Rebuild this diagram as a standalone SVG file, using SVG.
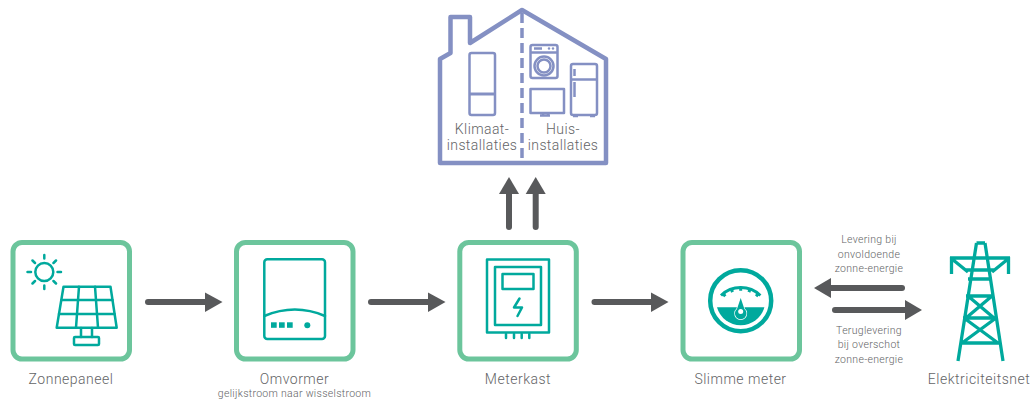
<svg xmlns="http://www.w3.org/2000/svg" width="1035" height="403" viewBox="0 0 1035 403">
<defs>
<style>
text{font-family:"Roboto","Liberation Sans",sans-serif;font-weight:300;fill:#636466;text-anchor:middle}
.n{font-size:14px;letter-spacing:.5px}.s{font-size:10.500px;letter-spacing:.3px}.h{font-size:14px;letter-spacing:.4px}
.box{fill:#fff;stroke:#6cc59c;stroke-width:5}
.ic{fill:none;stroke:#00a99d;stroke-width:2.500;stroke-linejoin:round;stroke-linecap:round}
.t{fill:#00a99d;stroke:none}
.hs{fill:none;stroke:#8490c3;stroke-width:2.500;stroke-linejoin:round}
.ar{fill:none;stroke:#58595b;stroke-width:6;stroke-linecap:round}
.ah{fill:#58595b}
</style>
</defs>
<g id="house">
<path d="M440 59L450.500 53V17H470V43L522 10L606 59V163H440Z" fill="#fff" stroke="#8490c3" stroke-width="4.500" stroke-linejoin="round"/>
<path d="M522 10V163" fill="none" stroke="#8490c3" stroke-width="3.500" stroke-dasharray="10 5" stroke-dashoffset="-3"/>
<rect class="hs" x="469.500" y="53" width="25.500" height="62" rx="2"/>
<path d="M469 94H495" fill="none" stroke="#8490c3" stroke-width="3"/>
<rect class="hs" x="530.500" y="45" width="27" height="33" rx="2"/>
<path class="hs" d="M531 52.500H557" stroke-width="2"/>
<path class="hs" d="M534 48.500H542" stroke-width="1.500"/>
<circle class="hs" cx="544" cy="66" r="9.500" stroke-width="1.500"/>
<circle class="hs" cx="544" cy="66" r="6.500" stroke-width="1.200"/>
<circle cx="549" cy="48.500" r="1.200" fill="#8490c3"/><circle cx="553" cy="48.500" r="1.200" fill="#8490c3"/>
<rect class="hs" x="530.500" y="89" width="33.500" height="24"/>
<path class="hs" d="M543 113V115M548 113V115M540 115.500H550" stroke-width="1.500"/>
<rect class="hs" x="571" y="64" width="26" height="51" rx="2"/>
<path class="hs" d="M571 79.500H597"/>
<path class="hs" d="M574.500 69V76M574.500 82V97" stroke-width="1.500"/>
<path class="hs" d="M573 116H578M590 116H595"/>
<text class="h" x="482" y="134">Klimaat-</text>
<text class="h" x="482" y="150">installaties</text>
<text class="h" x="563" y="134">Huis-</text>
<text class="h" x="563" y="150">installaties</text>
</g>
<g id="zonnepaneel">
<rect class="box" x="13" y="242.500" width="116.500" height="116.500" rx="9"/>
<circle class="ic" cx="44.300" cy="272" r="9"/>
<path class="ic" d="M44.300 255V258.500M44.300 285.500V289M27.500 272H31M57.500 272H61M32.500 260.500L35 263M53.500 281L56 283.500M32.500 283.500L35 281M53.500 263L56 260.500"/>
<path class="ic" d="M63.500 286.700H110.500L116.700 327.700H56.700Z"/>
<path class="ic" d="M61.500 300H112.500M59 314H114.500M79 286.700L76 327.700M95 286.700L98 327.700"/>
<path class="ic" d="M81 328V337M92 328V337"/>
<rect class="ic" x="74" y="337" width="25" height="8" rx="1"/>
<text class="n" x="71" y="384">Zonnepaneel</text>
</g>
<g id="omvormer">
<rect class="box" x="236.500" y="242.500" width="116.500" height="116.500" rx="9"/>
<rect class="ic" x="264.300" y="259.300" width="60.700" height="79.700" rx="3"/>
<path class="ic" d="M264.300 316Q295 303 325 316"/>
<rect class="t" x="271" y="322.300" width="5.700" height="5.500"/>
<rect class="t" x="279" y="322.300" width="5.700" height="5.500"/>
<rect class="t" x="287" y="322.300" width="5.700" height="5.500"/>
<circle class="t" cx="307.300" cy="325.300" r="3"/>
<text class="n" x="294.500" y="384">Omvormer</text>
<text class="s" x="294.500" y="397">gelijkstroom naar wisselstroom</text>
</g>
<g id="meterkast">
<rect class="box" x="459.800" y="242.500" width="116.500" height="116.500" rx="9"/>
<rect class="ic" x="487" y="259.500" width="62" height="73" stroke-width="3"/>
<rect class="ic" x="495" y="267" width="46" height="58" stroke-width="3"/>
<rect class="ic" x="502.500" y="274" width="31" height="15" stroke-width="3"/>
<path class="ic" d="M519.500 298.500L514 307.500H522L517.500 316" stroke-width="3"/>
<path class="ic" d="M506 334V338M514 334V338M521.700 334V338M529.300 334V338" stroke-width="3"/>
<text class="n" x="518" y="384">Meterkast</text>
</g>
<g id="slimme-meter">
<rect class="box" x="683" y="242.500" width="116.500" height="116.500" rx="9"/>
<circle cx="740.700" cy="300.700" r="30.500" fill="none" stroke="#00a99d" stroke-width="4.500"/>
<path class="t" d="M717 307.300H764.400A24.600 24.600 0 0 1 717 307.300Z"/>
<path fill="none" stroke="#00a99d" stroke-width="3" d="M721 295.500A28.500 28.500 0 0 1 760.400 295.500"/>
<path fill="none" stroke="#00a99d" stroke-width="3" d="M740.700 286.700V290.700M750.300 288.400L748.900 292.100M731.100 288.400L732.500 292.100M758.700 293.200L756.100 296.300M722.700 293.200L725.300 296.300"/>
<path d="M740.700 298L744.400 309A5.800 5.800 0 1 1 737 309Z" fill="#00a99d" stroke="#fff" stroke-width="1.300" paint-order="stroke"/>
<circle cx="740.700" cy="311.500" r="2.500" fill="#fff"/>
<text class="n" x="740.500" y="384">Slimme meter</text>
</g>
<g id="elektriciteitsnet">
<path fill="none" stroke="#00a99d" stroke-width="3.300" d="M976.500 243H985M976.500 243L958 361M985 243L1003 361M950 258H1010M951.500 257V274M1008.500 257V274M952 259L968 272M1008 259L992 272M966 270H994M968 279H992M966 296H994M963 318H997M960 343H1000M968 296L994 318M992 296L966 318M964 318L998 343M996 318L962 343"/>
<text class="n" x="979" y="384">Elektriciteitsnet</text>
</g>
<g id="labels">
<text class="s" x="869" y="243">Levering bij</text>
<text class="s" x="869" y="258">onvoldoende</text>
<text class="s" x="869" y="272">zonne-energie</text>
<text class="s" x="869" y="334">Teruglevering</text>
<text class="s" x="869" y="348">bij overschot</text>
<text class="s" x="869" y="363">zonne-energie</text>
</g>
<g id="connectors">
<path class="ar" d="M148 302H206"/><path class="ah" d="M205 292.500L222.500 302L205 312Z"/>
<path class="ar" d="M371 302H429"/><path class="ah" d="M428 292.500L445.500 302L428 312Z"/>
<path class="ar" d="M594.500 302H652"/><path class="ah" d="M651 292.500L668.500 302L651 312Z"/>
<path class="ar" d="M509 227V193"/><path class="ah" d="M499 194L509 177L519 194Z"/>
<path class="ar" d="M535.700 227V193"/><path class="ah" d="M525.700 194L535.700 177L545.700 194Z"/>
<path class="ar" d="M902 288H830"/><path class="ah" d="M831 278L814 288L831 298Z"/>
<path class="ar" d="M835 310H906"/><path class="ah" d="M905 300L922 310L905 320Z"/>
</g>
</svg>
